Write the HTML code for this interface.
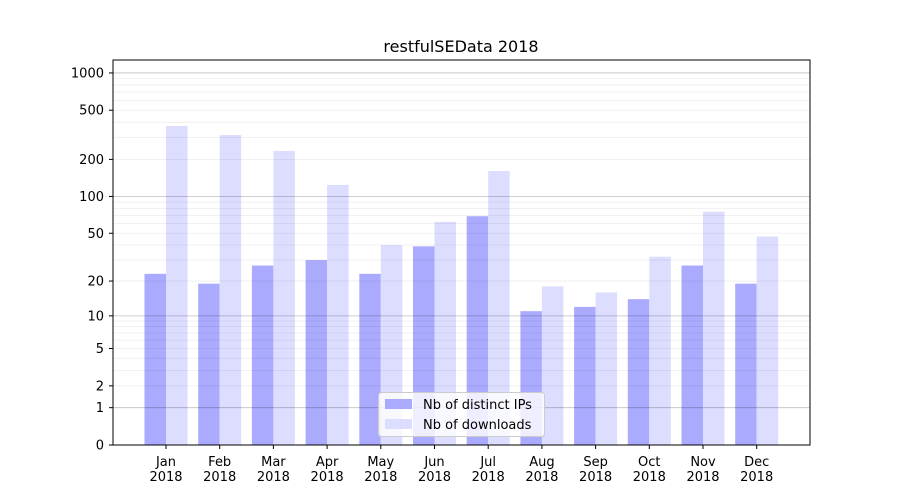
<!DOCTYPE html>
<html><head><meta charset="utf-8"><style>body{margin:0;background:#fff}svg{display:block;font-family:"DejaVu Sans","Liberation Sans",sans-serif}</style></head>
<body>
<svg width="900" height="500" xmlns="http://www.w3.org/2000/svg">
<rect width="900" height="500" fill="#fff"/>
<g id="bars"></g>
<g id="grid"></g>
<rect x="113" y="60" width="697" height="385" fill="none" stroke="#000" stroke-width="1"/>
<g id="ticks" font-size="13"></g>
<text x="461" y="52" font-size="16" text-anchor="middle">restfulSEData 2018</text>
<g>
<rect x="378.5" y="392.5" width="166" height="44" rx="3" fill="#fff" fill-opacity="0.8" stroke="#ccc"/>
<rect x="385" y="399" width="27" height="10" fill="#aaaaff"/>
<rect x="385" y="419" width="27" height="10" fill="#ddddff"/>
<text x="423" y="409" font-size="13">Nb of distinct IPs</text>
<text x="423" y="429" font-size="13">Nb of downloads</text>
</g>
</svg>
<script>
const ns="http://www.w3.org/2000/svg";
function Y(v){return 445-124*Math.log10(1+v);}
function el(p,t,a,txt){const e=document.createElementNS(ns,t);for(const k in a)e.setAttribute(k,a[k]);if(txt!==undefined)e.textContent=txt;document.getElementById(p).appendChild(e);}
[1,10,100,1000].forEach((d,i)=>{for(let m=1;m<10;m++){const v=d*m;if(v>1000)break;el("grid","line",{x1:113,x2:810,y1:Y(v),y2:Y(v),stroke:"#000","stroke-opacity":m==1?0.25:0.07,"stroke-width":0.8});}});
const months=["Jan","Feb","Mar","Apr","May","Jun","Jul","Aug","Sep","Oct","Nov","Dec"];
const a=[23,19,27,30,23,39,69,11,12,14,27,19];
const b=[373,315,234,124,40,62,161,18,16,32,75,47];
months.forEach((m,i)=>{const c=166+i*53.7;
el("bars","rect",{x:c-21.5,y:Y(a[i]),width:21.5,height:445-Y(a[i]),fill:"#aaaaff"});
el("bars","rect",{x:c,y:Y(b[i]),width:21.5,height:445-Y(b[i]),fill:"#ddddff"});
el("ticks","line",{x1:c,x2:c,y1:445,y2:449,stroke:"#000"});
el("ticks","text",{x:c,y:466,"text-anchor":"middle"},m);
el("ticks","text",{x:c,y:481,"text-anchor":"middle"},"2018");});
[0,1,2,5,10,20,50,100,200,500,1000].forEach(v=>{el("ticks","line",{x1:109,x2:113,y1:Y(v),y2:Y(v),stroke:"#000"});
el("ticks","text",{x:104,y:Y(v)+4.5,"text-anchor":"end"},String(v));});
</script>
</body></html>
